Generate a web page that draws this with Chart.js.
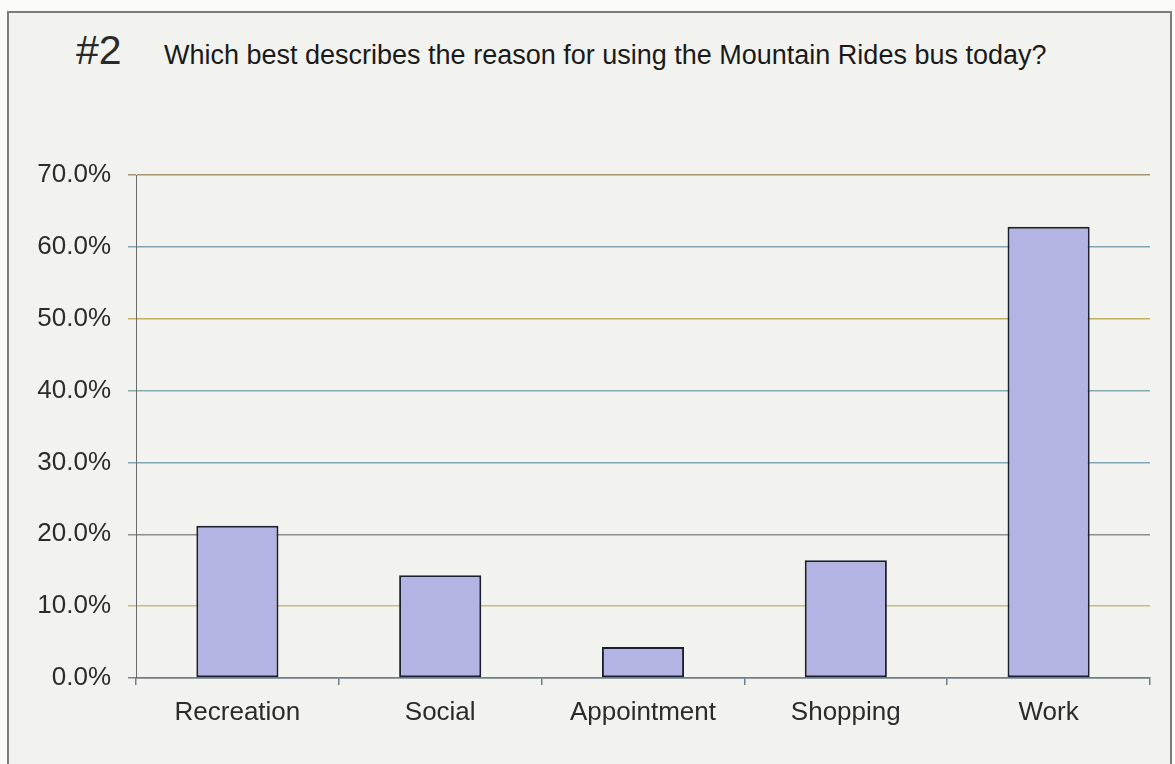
<!DOCTYPE html>
<html lang="en">
<head>
    <meta charset="UTF-8">
    <title>Reason for using the Mountain Rides bus</title>
    <script src="https://cdn.jsdelivr.net/npm/chart.js"></script>
    <style>
        body { margin: 0; background: #fbfbf9; font-family: "Liberation Sans", Arial, sans-serif; }
        #frame {
            position: absolute; left: 7px; top: 11px; width: 1161px; height: 770px;
            border: 2px solid #7c7c7c; background: #f2f3ef;
        }
        #num { position: absolute; left: 76px; top: 27px; font-size: 41px; color: #2a2a2a; }
        #question { position: absolute; left: 164px; top: 40px; font-size: 27px; color: #1a1a1a; }
        #wrap { position: absolute; left: 0; top: 0; width: 1175px; height: 764px; }
    </style>
</head>
<body>
    <div id="frame"></div>
    <div id="num">#2</div>
    <div id="question">Which best describes the reason for using the Mountain Rides bus today?</div>
    <div id="wrap"><canvas id="myChart" width="1175" height="764"></canvas></div>

    <script>
        // survey answers (percent of riders)
        const reasons = ['Recreation', 'Social', 'Appointment', 'Shopping', 'Work'];
        const shares = [21.2, 14.3, 4.3, 16.4, 62.8];
        const yTicks = [0, 10, 20, 30, 40, 50, 60, 70];

        // each horizontal rule has a slightly different tint on the printed page
        const gridColors = {
            0: '#6f8896', 10: '#c9bb7c', 20: '#8c8c8c', 30: '#7fa5b6',
            40: '#85aab0', 50: '#bdb060', 60: '#84a2b2', 70: '#a49872'
        };

        const ctx = document.getElementById('myChart').getContext('2d');
        new Chart(ctx, {
            type: 'bar',
            data: {
                labels: reasons,
                datasets: [{
                    data: shares,
                    backgroundColor: '#b4b4e4',
                    borderColor: '#1c1f2e',
                    borderWidth: 2,
                    borderSkipped: false,
                    categoryPercentage: 1,
                    barPercentage: 0.405
                }]
            },
            options: {
                responsive: false,
                animation: false,
                layout: { padding: { left: 0, right: 25, top: 175, bottom: 0 } },
                plugins: { legend: { display: false }, tooltip: { enabled: false } },
                scales: {
                    x: {
                        afterFit: s => { s.height = 86; },
                        grid: { drawOnChartArea: false, tickLength: 7, color: '#6f7f8a', lineWidth: 1.5 },
                        border: { color: '#6f7f8a', width: 1.5 },
                        ticks: { color: '#2b2b2b', padding: 12, font: { family: 'Liberation Sans', size: 26 } }
                    },
                    y: {
                        min: 0,
                        max: 70,
                        afterFit: s => { s.width = 136; },
                        afterBuildTicks: s => { s.ticks = yTicks.map(v => ({ value: v })); },
                        grid: {
                            tickLength: 8,
                            lineWidth: 1.5,
                            color: c => gridColors[c.tick.value] || '#8c8c8c'
                        },
                        border: { color: '#6a6a6a', width: 1 },
                        ticks: {
                            color: '#2b2b2b',
                            padding: 17,
                            font: { family: 'Liberation Sans', size: 26 },
                            callback: v => v.toFixed(1) + '%'
                        }
                    }
                }
            }
        });
    </script>
</body>
</html>
